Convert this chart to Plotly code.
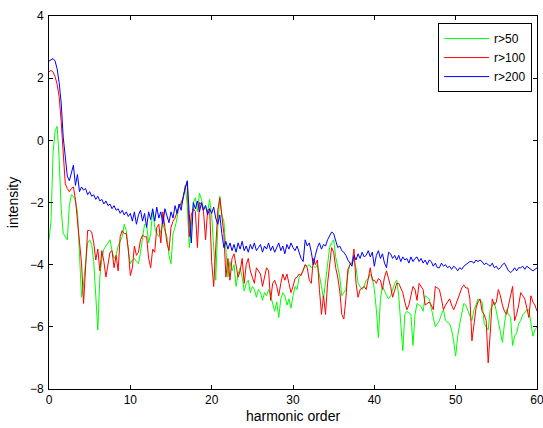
import plotly.graph_objects as go

x_step = 0.25
n_points = 241
x_vals = [i * x_step for i in range(n_points)]

series_names = ["r>50", "r>100", "r>200"]
series_colors = ["#00ff00", "#ff0000", "#0000ff"]

green_vals = [
    -3.2, -2.6, -0.4, 0.3,
    0.45, -0.6, -2.2, -3.0,
    -3.1, -3.2, -2.1, -1.75,
    -1.8, -1.95, -2.3, -3.6,
    -5.05, -4.6, -4.0, -3.3,
    -3.2, -3.35, -3.9, -5.0,
    -6.1, -4.4, -3.8, -3.5,
    -3.4, -3.3, -3.2, -3.55,
    -3.8, -3.7, -3.4, -3.25,
    -3.1, -2.7, -2.9, -3.55,
    -3.97, -3.85, -3.8, -3.9,
    -3.97, -3.6, -3.1, -2.7,
    -2.7, -3.3, -3.0, -2.25,
    -2.8, -3.0, -3.1, -2.9,
    -2.7, -2.9, -3.1, -3.7,
    -3.97, -3.0, -2.8, -2.5,
    -2.05, -2.1, -1.9, -1.45,
    -2.1, -3.45, -2.6, -2.0,
    -1.85, -2.3, -1.7, -1.9,
    -2.2, -2.1, -2.3, -1.9,
    -2.4, -3.45, -4.5, -2.8,
    -1.8, -2.4, -2.6, -3.5,
    -4.4, -3.9, -4.2, -4.0,
    -4.7, -4.3, -4.1, -4.4,
    -4.85, -4.6, -4.5, -4.9,
    -4.7, -4.8, -5.05, -4.8,
    -4.9, -5.15, -4.9, -5.0,
    -4.8, -5.0, -5.3, -5.5,
    -5.2, -5.7, -5.1, -4.9,
    -5.0, -5.3, -5.1, -5.4,
    -5.0, -4.7, -4.8, -4.4,
    -4.3, -4.2, -4.0, -4.05,
    -4.0, -4.1, -4.05, -4.1,
    -4.0, -4.3, -4.7, -5.1,
    -4.5, -4.0, -3.45, -3.3,
    -3.2, -3.75, -4.1, -4.4,
    -5.0, -4.9, -4.8, -4.3,
    -3.97, -3.9, -3.87, -4.1,
    -4.6, -4.7, -4.8, -4.7,
    -4.5, -4.45, -4.3, -4.4,
    -4.8, -5.45, -6.35, -5.1,
    -4.7, -4.85, -5.0, -5.1,
    -5.0, -4.8, -4.6, -4.5,
    -5.0, -5.9, -6.77, -5.6,
    -5.5, -5.55, -5.6, -6.6,
    -5.6, -5.25, -5.3, -5.35,
    -5.5, -5.0, -5.05, -5.1,
    -5.4, -5.7, -6.0, -5.9,
    -5.8, -5.6, -5.45, -5.8,
    -5.85, -5.9, -6.1, -6.45,
    -6.94, -6.3, -5.9, -5.5,
    -5.25, -5.3, -5.5, -5.65,
    -5.8, -5.45, -5.3, -5.1,
    -5.15, -5.2, -5.9, -6.0,
    -6.1, -5.45, -5.3, -5.2,
    -5.5, -5.8, -6.1, -6.5,
    -5.9, -5.45, -5.6, -5.7,
    -6.6, -6.3, -6.2, -5.9,
    -5.8, -5.6, -5.55, -5.45,
    -5.45, -5.9, -6.3, -6.1,
    -6.0,
]

red_vals = [
    2.2, 2.25, 2.2, 2.05,
    1.8, 1.4, 0.6, -0.5,
    -1.4, -1.55, -1.65, -1.55,
    -1.5, -1.9, -2.55, -3.4,
    -3.95, -5.25, -3.9, -2.9,
    -2.9, -2.95, -3.3, -3.85,
    -3.5, -4.2, -3.55, -3.9,
    -4.4, -3.95, -3.6, -3.55,
    -4.1, -3.7, -4.2, -3.1,
    -2.9, -3.0, -3.0, -3.5,
    -4.35, -4.1, -3.4, -3.7,
    -3.6, -3.2, -3.05, -3.1,
    -3.1, -3.8, -4.1, -3.5,
    -3.6, -2.8, -2.7, -3.3,
    -2.3, -2.8, -3.3, -3.55,
    -2.8, -2.6, -2.5, -2.3,
    -2.15, -2.0, -1.85, -1.5,
    -1.35, -3.1, -2.4, -2.2,
    -2.3, -3.45, -2.0, -2.05,
    -2.3, -3.2, -2.25, -2.2,
    -3.9, -4.7, -3.45, -2.25,
    -1.85, -2.4, -3.0, -4.4,
    -3.8, -4.5, -3.8, -3.65,
    -4.1, -4.4, -4.2, -3.8,
    -4.6, -4.0, -3.8, -4.2,
    -4.4, -4.6, -4.1, -4.2,
    -4.3, -4.7, -4.4, -4.1,
    -4.2, -5.15, -4.6, -4.5,
    -4.7, -5.0, -4.6, -4.3,
    -4.5, -4.3, -4.6, -4.9,
    -4.7, -4.45, -4.4, -4.3,
    -4.35, -4.2, -4.0, -4.1,
    -4.5, -4.6, -3.8, -4.0,
    -3.85, -4.8, -5.6, -5.0,
    -5.6, -4.6, -3.9, -3.45,
    -3.6, -4.1, -4.4, -4.85,
    -5.6, -5.75, -5.1, -4.15,
    -4.0, -3.97, -3.5, -4.6,
    -5.05, -4.8, -4.75, -4.7,
    -4.8, -4.5, -4.1, -4.5,
    -4.5, -4.6, -4.45, -4.5,
    -4.8, -4.4, -4.2, -4.45,
    -4.7, -5.05, -4.8, -4.6,
    -4.6, -4.75, -4.9, -5.2,
    -5.45, -5.3, -5.0, -4.7,
    -4.8, -5.15, -4.6, -4.7,
    -4.8, -5.3, -5.25, -5.2,
    -5.3, -5.45, -4.7, -4.75,
    -4.8, -5.1, -5.45, -5.3,
    -5.2, -5.1, -5.3, -5.45,
    -5.3, -5.1, -4.9, -4.75,
    -4.65, -4.75, -4.75, -5.1,
    -6.45, -5.9, -5.4, -5.2,
    -5.1, -5.5, -5.6, -5.8,
    -7.16, -6.2, -5.1, -5.3,
    -5.2, -4.8, -5.0, -5.3,
    -5.5, -5.6, -5.3, -5.0,
    -4.7, -5.8, -5.6, -5.3,
    -4.9, -5.0, -5.1, -5.4,
    -5.7, -5.0, -5.2, -5.3,
    -5.5,
]

blue_vals = [
    2.55, 2.6, 2.63, 2.55,
    2.3, 1.85, 1.2, 0.1,
    -0.6, -1.15, -1.3, -1.05,
    -0.8, -1.45, -1.1, -1.65,
    -1.5, -1.6, -1.55, -1.75,
    -1.65, -1.8, -1.75, -1.9,
    -1.8, -1.95, -1.9, -2.05,
    -1.95, -2.1, -2.05, -2.2,
    -2.1, -2.25, -2.2, -2.35,
    -2.25, -2.4, -2.3, -2.45,
    -2.35, -2.6, -2.3, -2.7,
    -2.4, -2.25, -2.6, -2.35,
    -2.8, -2.3, -2.55, -2.2,
    -2.6, -2.15, -2.5, -2.3,
    -2.7, -2.2, -2.4, -2.65,
    -2.3, -2.5, -2.1, -2.35,
    -2.05, -2.25, -1.8, -1.5,
    -1.3, -2.4, -3.3, -2.0,
    -2.2, -1.95, -2.3, -2.0,
    -2.25, -2.1, -2.4, -2.2,
    -2.35, -2.15, -2.5, -2.7,
    -2.4, -3.0, -3.45, -3.25,
    -3.5, -3.3, -3.55, -3.35,
    -3.6, -3.3, -3.5, -3.25,
    -3.55, -3.4, -3.6, -3.35,
    -3.5, -3.3, -3.55, -3.45,
    -3.35, -3.6, -3.4, -3.5,
    -3.3, -3.55, -3.4, -3.6,
    -3.45, -3.3, -3.55, -3.4,
    -3.65, -3.35, -3.5, -3.3,
    -3.45, -3.55, -3.4, -3.6,
    -3.8, -3.9, -3.2, -3.4,
    -3.3, -3.6, -4.0, -3.7,
    -3.45, -3.3, -3.5, -3.35,
    -3.4, -3.2, -3.05, -2.95,
    -3.0, -3.25, -3.45, -3.4,
    -3.55, -3.6, -3.7, -3.85,
    -3.95, -4.05, -3.7, -3.85,
    -3.65, -3.8, -3.6, -3.75,
    -3.7, -3.55, -3.75, -3.6,
    -4.05, -3.7, -3.55, -3.8,
    -3.65, -3.95, -4.1, -3.6,
    -3.65, -3.8, -3.7, -3.85,
    -3.7, -3.9, -3.75, -3.85,
    -3.8, -3.95, -3.75, -3.9,
    -3.8, -3.75, -3.9, -3.8,
    -3.95, -3.85, -4.0, -3.85,
    -3.9, -4.05, -3.95, -4.1,
    -4.1, -3.95, -4.05, -4.0,
    -4.1, -4.05, -4.15, -4.05,
    -4.1, -4.2, -4.1, -4.15,
    -4.05, -4.0, -3.95, -3.9,
    -3.9, -3.95, -3.85, -3.9,
    -3.85, -3.9, -4.0, -3.95,
    -4.0, -4.05, -3.95, -4.1,
    -4.05, -4.15, -4.1, -4.0,
    -3.95, -4.1, -4.2, -4.25,
    -4.2, -4.1, -4.2, -4.1,
    -4.1, -4.05, -4.15, -4.05,
    -4.1, -4.15, -4.2, -4.15,
    -4.1,
]

x_ticks = [0, 10, 20, 30, 40, 50, 60]
y_ticks = [-8, -6, -4, -2, 0, 2, 4]

fig = go.Figure()
for name, color, vals in zip(series_names, series_colors, [green_vals, red_vals, blue_vals]):
    fig.add_trace(go.Scatter(x=x_vals, y=vals, mode="lines", name=name,
                             line=dict(color=color, width=1)))

axis_common = dict(
    showline=True, linecolor="#000000", linewidth=1, mirror="allticks",
    ticks="inside", ticklen=4, tickcolor="#000000", showgrid=False, zeroline=False,
    automargin=False, ticklabeloverflow="allow",
    tickfont=dict(family="Liberation Sans, Arial, sans-serif", size=12, color="#000000"),
)

fig.update_layout(
    width=543, height=428,
    margin=dict(l=49, r=6, t=16, b=39),
    paper_bgcolor="#ffffff", plot_bgcolor="#ffffff",
    font=dict(family="Liberation Sans, Arial, sans-serif", size=12, color="#000000"),
    xaxis=dict(range=[0, 60], tickvals=x_ticks, ticklabelstandoff=0,
               title=dict(text="harmonic order", standoff=4), **axis_common),
    yaxis=dict(range=[-8, 4], tickvals=y_ticks, ticklabelstandoff=2,
               title=dict(text="intensity", standoff=8), **axis_common),
    legend=dict(x=0.99, y=0.981, xanchor="right", yanchor="top", bgcolor="#ffffff",
                bordercolor="#000000", borderwidth=1, font=dict(size=12),
                tracegroupgap=0, itemwidth=45, entrywidth=56),
    showlegend=True,
)

fig.write_html("out.html", post_script="document.body.style.margin='0';",
               config={"displayModeBar": False})
